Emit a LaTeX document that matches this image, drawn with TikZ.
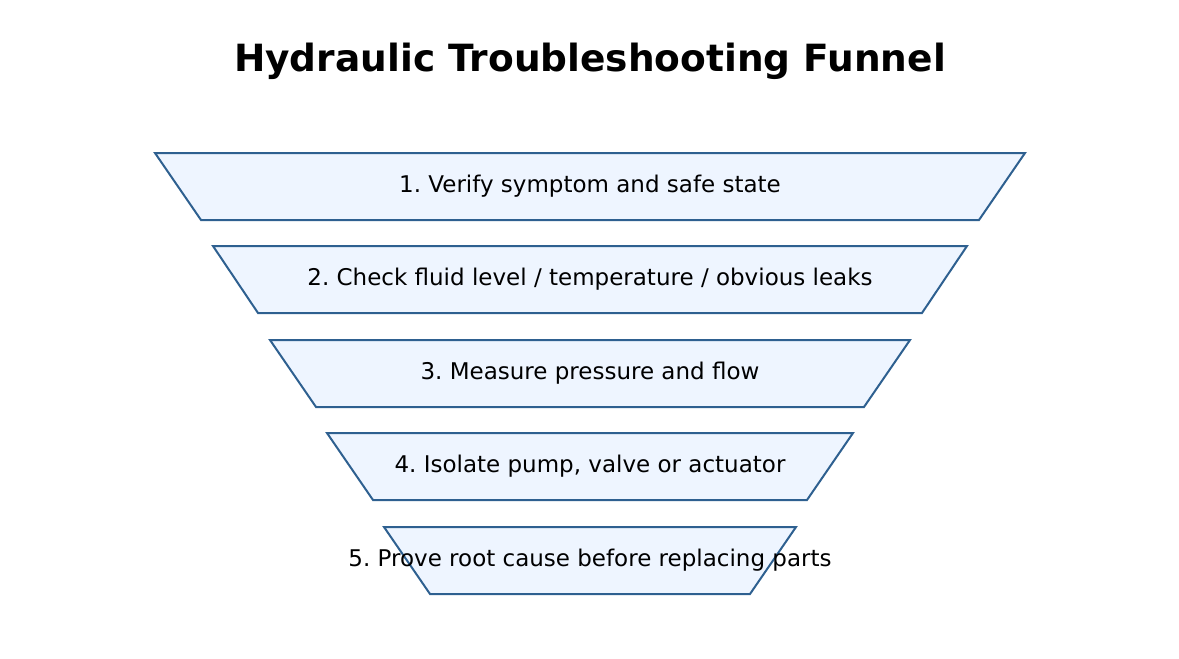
\documentclass[tikz,border=0pt]{standalone}
\usepackage{fontspec}
\setmainfont{DejaVu Sans}
\frenchspacing
\begin{document}
\begin{tikzpicture}[x=1pt,y=-1pt,
  stage/.style={draw=stroke,fill=fillc,line width=2pt,line join=miter},
  lab/.style={font=\fontsize{23}{27}\selectfont}]
\definecolor{stroke}{HTML}{2E6090}
\definecolor{fillc}{HTML}{EEF5FF}
\useasboundingbox (0,0) rectangle (1179,659);
\node[font=\fontsize{37.5}{44}\bfseries] (title) at (590,61) {Hydraulic Troubleshooting Funnel};
\draw[stage] (155,153) -- (1025,153) -- (979,220) -- (201,220) -- cycle;
\draw[stage] (213,246) -- (967,246) -- (922,313) -- (258,313) -- cycle;
\draw[stage] (270,340) -- (910,340) -- (864,407) -- (316,407) -- cycle;
\draw[stage] (327,433) -- (853,433) -- (807,500) -- (373,500) -- cycle;
\draw[stage] (384,527) -- (796,527) -- (750,594) -- (430,594) -- cycle;
\node[lab] (s1) at (590,186) {1. Verify symptom and safe state};
\node[lab] (s2) at (590,279) {2. Check fluid level / temperature / obvious leaks};
\node[lab] (s3) at (590,373) {3. Measure pressure and flow};
\node[lab] (s4) at (590,466) {4. Isolate pump, valve or actuator};
\node[lab] (s5) at (590,560) {5. Prove root cause before replacing parts};
\end{tikzpicture}
\end{document}
